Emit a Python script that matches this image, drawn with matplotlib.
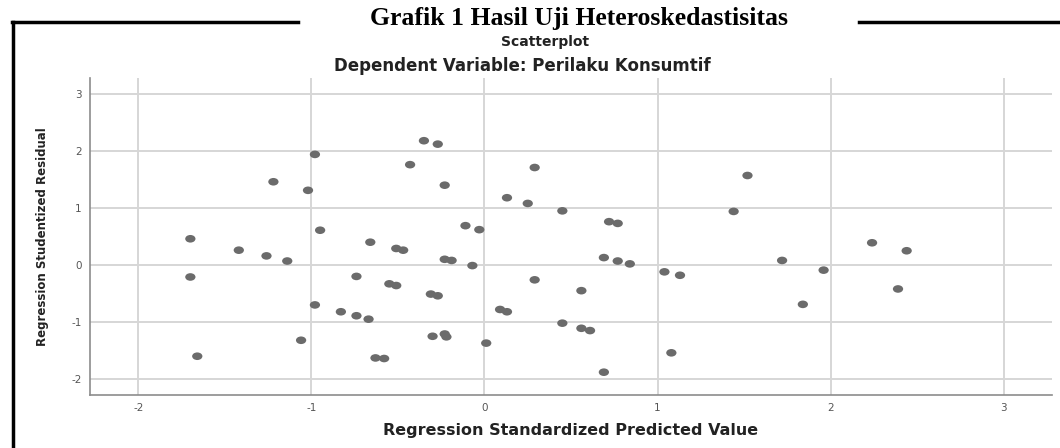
import matplotlib
matplotlib.use("Agg")
import matplotlib.pyplot as plt
from matplotlib.lines import Line2D
from matplotlib.markers import MarkerStyle
from matplotlib.transforms import Affine2D

plt.rcParams["axes.unicode_minus"] = False

# standardized predicted value (x) vs studentized residual (y)
pred = [-1.70, -1.70, -1.42, -1.26, -1.14, -1.22, -1.02, -0.98, -0.95, -0.74,
        -0.66, -0.51, -0.47, -0.55, -0.51, -0.98, -0.83, -0.74, -0.67, -1.06,
        -1.66, -0.63, -0.58, -0.35, -0.27, -0.43, -0.23, 0.29, 0.13, 0.25,
        0.45, 0.72, 0.77, -0.11, -0.03, -0.23, -0.19, -0.07, 0.69, 0.77,
        0.84, 1.04, 1.13, 0.29, 0.56, -0.31, -0.27, 0.09, 0.13, 0.45,
        0.56, 0.61, -0.30, -0.23, -0.22, 0.01, 0.69, 1.08, 1.52, 1.44,
        1.72, 1.96, 2.24, 2.44, 2.39, 1.84]
resid = [0.46, -0.21, 0.26, 0.16, 0.07, 1.46, 1.31, 1.94, 0.61, -0.20,
         0.40, 0.29, 0.26, -0.33, -0.36, -0.70, -0.82, -0.89, -0.95, -1.32,
         -1.60, -1.63, -1.64, 2.18, 2.12, 1.76, 1.40, 1.71, 1.18, 1.08,
         0.95, 0.76, 0.73, 0.69, 0.62, 0.10, 0.08, -0.01, 0.13, 0.07,
         0.02, -0.12, -0.18, -0.26, -0.45, -0.51, -0.54, -0.78, -0.82, -1.02,
         -1.11, -1.15, -1.25, -1.21, -1.26, -1.37, -1.88, -1.54, 1.57, 0.94,
         0.08, -0.09, 0.39, 0.25, -0.42, -0.69]
ticks = [-2, -1, 0, 1, 2, 3]

W, H = 1060, 448
fig = plt.figure(figsize=(W / 100, H / 100), dpi=100)
ax = fig.add_axes([90 / W, 1 - 395 / H, (1052 - 90) / W, (395 - 78) / H])

dot = MarkerStyle("o", transform=Affine2D().scale(1.35, 1.0))
ax.scatter(pred, resid, marker=dot, s=30, color="#6b6b6b", edgecolors="none", zorder=3)

ax.set_xlim(-2.28, 3.28)
ax.set_ylim(-2.28, 3.28)
ax.set_xticks(ticks)
ax.set_yticks(ticks)
ax.grid(True, color="#d6d6d6", linewidth=1.4)
ax.set_axisbelow(True)
for s in ["top", "right"]:
    ax.spines[s].set_visible(False)
for s in ["left", "bottom"]:
    ax.spines[s].set_color("#8c8c8c")
    ax.spines[s].set_linewidth(1.2)
ax.tick_params(length=0, labelsize=7.5, labelcolor="#555555", pad=6)

ax.set_xlabel("Regression Standardized Predicted Value", fontsize=11.5,
              fontweight="bold", color="#222222", labelpad=7)
ax.set_ylabel("Regression Studentized Residual", fontsize=8.5,
              fontweight="bold", color="#222222", labelpad=16)

# titles
fig.text(579 / W, 1 - 19 / H, "Grafik 1 Hasil Uji Heteroskedastisitas",
         family="Liberation Serif", fontweight="bold", fontsize=18.5,
         ha="center", va="center")
fig.text(545 / W, 1 - 42 / H, "Scatterplot", fontweight="bold", fontsize=10,
         color="#222222", ha="center", va="center")
fig.text(522 / W, 1 - 66 / H, "Dependent Variable: Perilaku Konsumtif",
         fontweight="bold", fontsize=12, color="#222222", ha="center", va="center")

# page frame around the figure
frame = dict(color="black", linewidth=2.5, transform=fig.transFigure)
fig.add_artist(Line2D([13 / W, 13 / W], [0, 1 - 22 / H], **frame))
fig.add_artist(Line2D([12 / W, 298 / W], [1 - 22 / H, 1 - 22 / H], **frame))
fig.add_artist(Line2D([859 / W, 1], [1 - 22 / H, 1 - 22 / H], **frame))

fig.savefig("out.png", dpi=100)
